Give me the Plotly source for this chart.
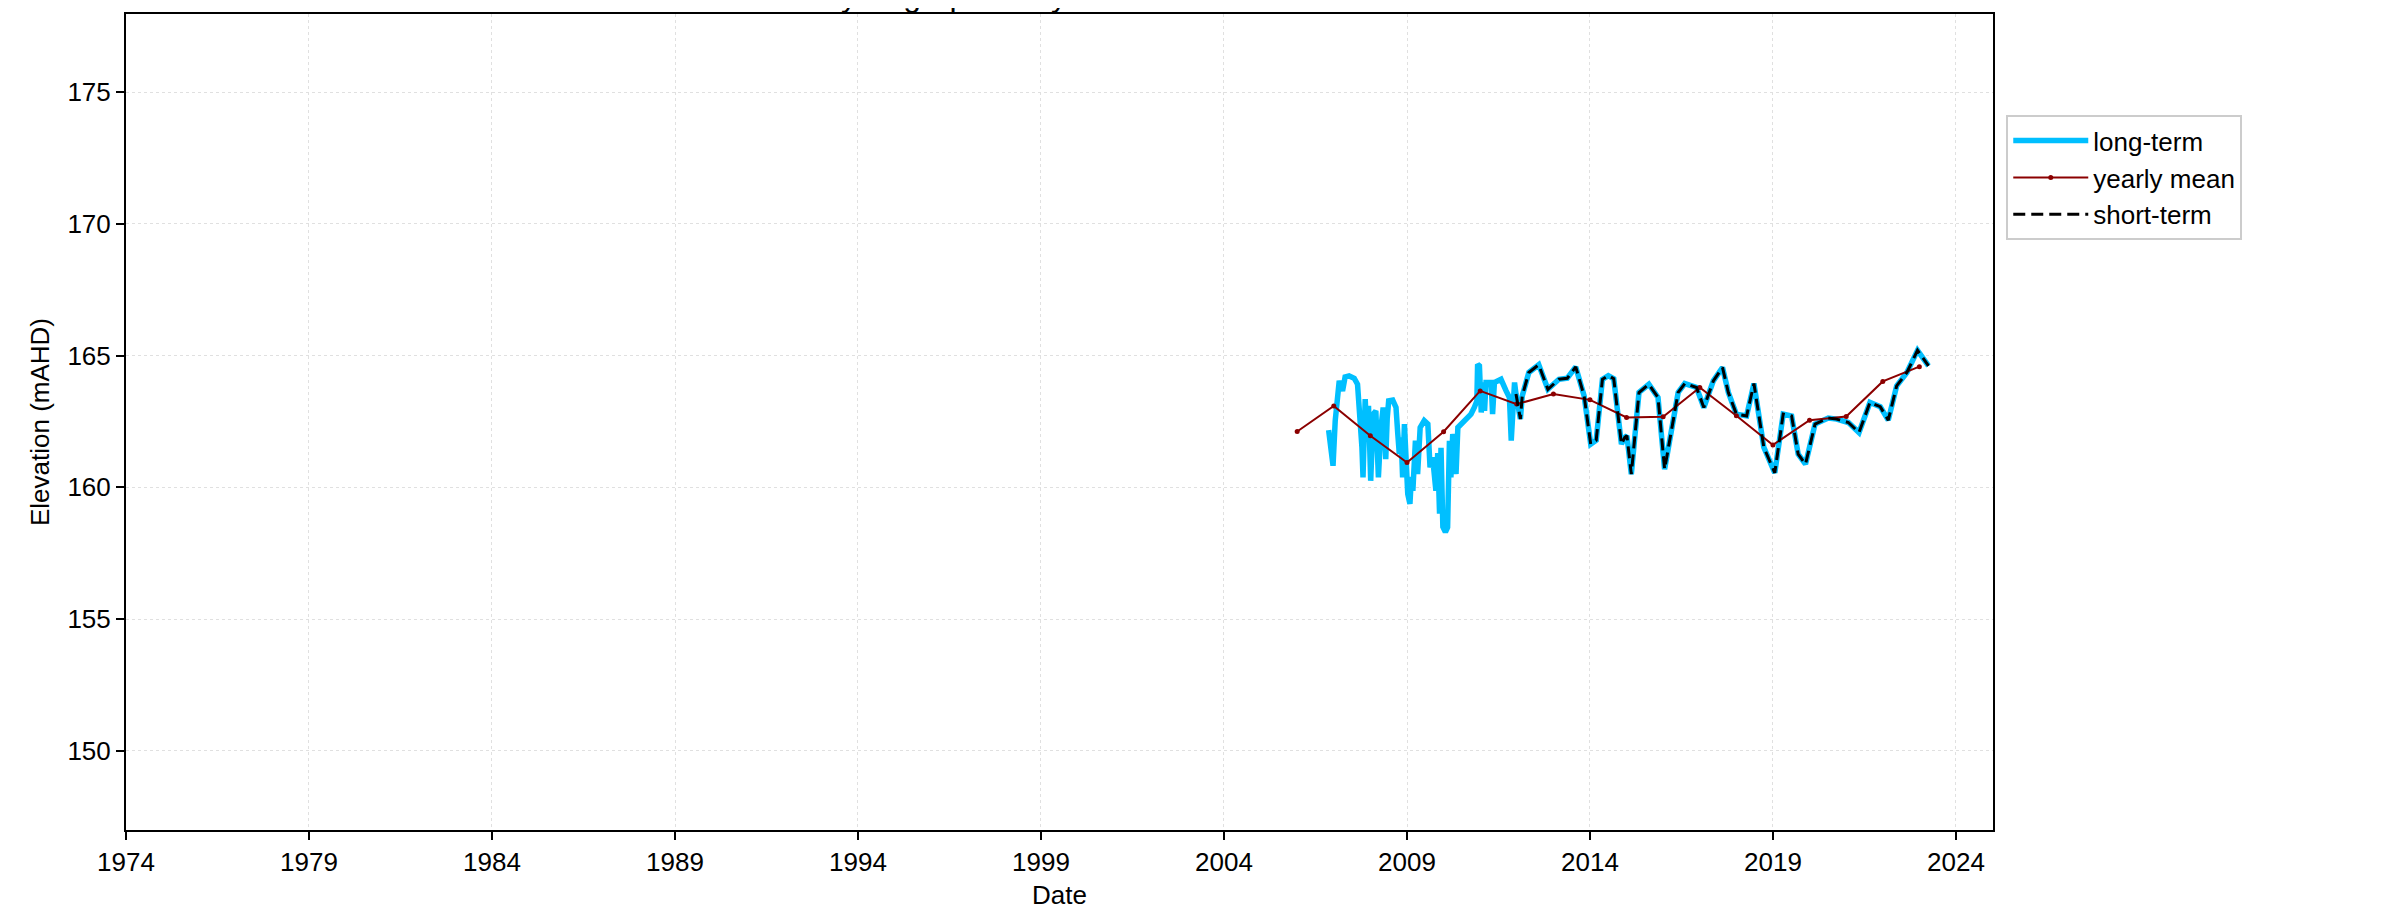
import datetime as dt
import plotly.graph_objects as go

# ---------------- data (decimal years, elevation mAHD) ----------------
dense_years = [2006.86, 2006.98, 2007.04, 2007.10, 2007.15, 2007.24, 2007.31, 2007.42, 2007.56, 2007.65,
               2007.70, 2007.74, 2007.77, 2007.80, 2007.83, 2007.86, 2007.90, 2007.95, 2008.01, 2008.05,
               2008.08, 2008.15, 2008.18, 2008.22, 2008.29, 2008.35, 2008.39, 2008.42, 2008.46, 2008.50,
               2008.61, 2008.70, 2008.75, 2008.79, 2008.84, 2008.88, 2008.93, 2008.97,
               2009.02, 2009.08, 2009.12, 2009.16, 2009.23, 2009.29, 2009.36, 2009.47, 2009.57, 2009.63, 2009.70,
               2009.79, 2009.84, 2009.89, 2009.93, 2009.98, 2010.05, 2010.11, 2010.16, 2010.20, 2010.25,
               2010.30, 2010.34, 2010.39, 2010.48, 2010.61, 2010.75, 2010.84, 2010.91, 2010.93, 2010.98,
               2011.03, 2011.07, 2011.12, 2011.16, 2011.30, 2011.34, 2011.39, 2011.57, 2011.71, 2011.80,
               2011.85, 2011.89, 2011.94]
dense_vals = [162.17, 160.82, 162.53, 163.60, 164.04, 163.66, 164.19, 164.23, 164.14, 163.91,
              163.03, 162.40, 161.52, 160.38, 162.10, 163.35, 162.02, 163.09, 160.25, 162.30,
              162.78, 162.90, 161.60, 160.38, 162.27, 163.03, 162.10, 161.07, 162.60, 163.28,
              163.31, 163.03, 162.00, 161.26, 161.90, 160.38, 162.40, 161.39,
              159.75, 159.37, 160.40, 159.87, 161.77, 160.50, 162.27, 162.53, 162.40, 160.76, 161.14,
              159.87, 161.30, 159.00, 161.50, 158.50, 158.30, 158.48, 161.77, 160.38, 162.02,
              161.77, 160.50, 162.27, 162.40, 162.59, 162.78, 163.03, 163.28, 164.67, 164.61,
              162.84, 163.98, 162.90, 163.98, 163.98, 162.78, 163.98, 164.10, 163.66, 163.41,
              161.77, 162.90, 163.98]

short_years = [2011.98, 2012.10, 2012.15, 2012.33, 2012.60, 2012.85, 2013.15, 2013.38, 2013.61, 2013.84,
               2014.02, 2014.17, 2014.34, 2014.50, 2014.65, 2014.86, 2014.95, 2015.01, 2015.13, 2015.34,
               2015.61, 2015.86, 2016.04, 2016.41, 2016.59, 2016.91, 2017.11, 2017.37, 2017.62, 2017.78,
               2018.00, 2018.28, 2018.48, 2018.75, 2019.05, 2019.28, 2019.51, 2019.69, 2019.89, 2020.15,
               2020.51, 2020.74, 2021.06, 2021.35, 2021.65, 2021.93, 2022.15, 2022.38, 2022.66, 2022.95,
               2023.25]
short_vals = [163.54, 162.59, 163.47, 164.36, 164.65, 163.72, 164.10, 164.14, 164.57, 163.47,
              161.64, 161.79, 164.10, 164.24, 164.12, 161.64, 161.89, 161.96, 160.50, 163.60,
              163.91, 163.41, 160.69, 163.60, 163.94, 163.79, 163.03, 164.04, 164.55, 163.60,
              162.78, 162.71, 163.94, 161.52, 160.55, 162.78, 162.71, 161.26, 160.88, 162.40,
              162.63, 162.59, 162.46, 162.08, 163.22, 163.06, 162.55, 163.85, 164.36, 165.20,
              164.61]

mean_years = [2006, 2007, 2008, 2009, 2010, 2011, 2012, 2013, 2014, 2015, 2016, 2017, 2018, 2019,
              2020, 2021, 2022, 2023]
mean_vals = [162.12, 163.09, 161.96, 160.94, 162.11, 163.66, 163.16, 163.54, 163.32, 162.65, 162.68,
             163.79, 162.72, 161.61, 162.55, 162.69, 164.02, 164.58]

tick_years = [1974, 1979, 1984, 1989, 1994, 1999, 2004, 2009, 2014, 2019, 2024]
title_text = "Hydrograph of Sydenham Bore"


def to_date(y):
    yr = int(y)
    start = dt.datetime(yr, 1, 1)
    end = dt.datetime(yr + 1, 1, 1)
    return start + (end - start) * (y - yr)


long_x = [to_date(y) for y in dense_years + short_years]
long_y = dense_vals + short_vals
short_x = [to_date(y) for y in short_years]
mean_x = [to_date(y) for y in mean_years]

FONT = "Liberation Sans, Arial, sans-serif"
FS = 26

fig = go.Figure()
fig.add_trace(go.Scatter(x=long_x, y=long_y, mode="lines", name="long-term",
                         line=dict(color="#00bfff", width=5.5), legendgroup="a"))
fig.add_trace(go.Scatter(x=mean_x, y=mean_vals, mode="lines+markers", name="yearly mean",
                         line=dict(color="#8b0000", width=2), marker=dict(size=5, color="#8b0000"),
                         legendgroup="b"))
fig.add_trace(go.Scatter(x=short_x, y=short_vals, mode="lines", name="short-term",
                         line=dict(color="black", width=3, dash="12px,6px"), legendgroup="c"))

fig.update_layout(
    width=2387, height=912,
    margin=dict(l=118, r=402, t=4, b=90),
    paper_bgcolor="white", plot_bgcolor="white",
    font=dict(family=FONT, size=FS, color="black"),
    showlegend=True,
    legend=dict(x=1.0071, y=0.876, xanchor="left", yanchor="top",
                bgcolor="white", bordercolor="#cccccc", borderwidth=2, itemwidth=75,
                font=dict(family=FONT, size=FS), tracegroupgap=0, traceorder="grouped"),
    annotations=[dict(text=title_text, xref="paper", yref="paper", x=0.370, y=0.9994,
                      xanchor="left", yanchor="bottom", showarrow=False, borderpad=0,
                      font=dict(family=FONT, size=32, color="black"))],
)

fig.update_xaxes(
    range=[dt.datetime(1974, 1, 1), dt.datetime(2025, 1, 5)],
    tickvals=[dt.datetime(y, 1, 1) for y in tick_years],
    ticktext=[str(y) for y in tick_years],
    ticks="outside", ticklen=8, tickwidth=1.5, tickcolor="black",
    showline=True, linecolor="black", linewidth=2, mirror=True,
    showgrid=True, gridcolor="#e0e0e0", gridwidth=1, griddash="dot",
    zeroline=False,
    title=dict(text="Date", standoff=10, font=dict(family=FONT, size=FS)),
)
fig.update_yaxes(
    range=[147.0, 177.96], tick0=150, dtick=5,
    ticks="outside", ticklen=8, tickwidth=1.5, tickcolor="black",
    showline=True, linecolor="black", linewidth=2, mirror=True,
    showgrid=True, gridcolor="#e0e0e0", gridwidth=1, griddash="dot",
    zeroline=False,
    title=dict(text="Elevation (mAHD)", standoff=10, font=dict(family=FONT, size=FS)),
)

fig.write_html("out.html")
